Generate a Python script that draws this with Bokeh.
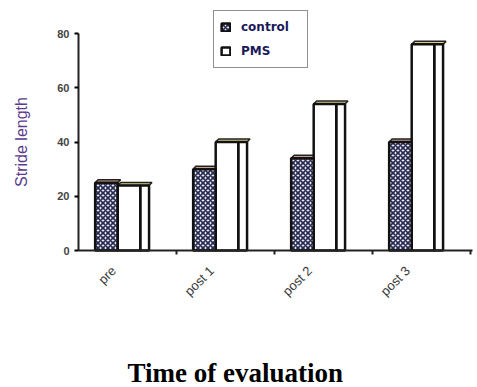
import numpy as np
from bokeh.plotting import figure
from bokeh.models import FixedTicker, Legend, LegendItem, Label, LinearAxis, Range1d
from bokeh.embed import file_html
from bokeh.resources import INLINE

categories = ["pre", "post 1", "post 2", "post 3"]
control = [25, 30, 34, 40]
pms = [24, 40, 54, 76]
y_ticks = [0, 20, 40, 60, 80]

idx = np.arange(len(categories))
c_left, c_right = idx + 0.17, idx + 0.40
p_left, p_front, p_right = idx + 0.40, idx + 0.63, idx + 0.72
dx, dy = 0.03, 1.1

W, H = 477, 387
ox, oy = 78, 250          # pixel position of the data origin
sx, sy = 98.0, 217 / 80   # pixels per unit

p = figure(width=W, height=H,
           x_range=Range1d(-ox / sx, (W - ox) / sx),
           y_range=Range1d(-(H - oy) / sy, oy / sy),
           x_axis_location=None, y_axis_location=None,
           output_backend="svg", toolbar_location=None, min_border=0)
p.outline_line_color = None
p.xgrid.grid_line_color = None
p.ygrid.grid_line_color = None
p.background_fill_color = "white"

# 3D top faces
def tops(l, r, v):
    xs = [[a, b, b + dx, a + dx] for a, b in zip(l, r)]
    ys = [[t, t, t + dy, t + dy] for t in v]
    return xs, ys

xs, ys = tops(p_left, p_right, pms)
p.patches(xs, ys, fill_color="#d9cf86", line_color="#222222", line_width=1.5)
xs, ys = tops(c_left, c_right, control)
p.patches(xs, ys, fill_color="#c99c8c", line_color="#222222", line_width=1.5)

# PMS side face + front
p.quad(left=p_front, right=p_right, bottom=0, top=pms, fill_color="white",
       line_color="#111111", line_width=2.5)
r_pms = p.quad(left=p_left, right=p_front, bottom=0, top=pms, fill_color="white",
               line_color="#111111", line_width=2.5)
# control
r_ctrl = p.quad(left=c_left, right=c_right, bottom=0, top=control,
                fill_color="#e8ecf2", hatch_pattern="diagonal_cross",
                hatch_scale=5, hatch_weight=1.6, hatch_color="#26284f",
                line_color="#111111", line_width=2.5)

# axes
yaxis = LinearAxis(fixed_location=0, bounds=(0, 80),
                   ticker=FixedTicker(ticks=y_ticks))
yaxis.axis_line_color = "#222222"
yaxis.axis_line_width = 2
yaxis.major_tick_out = 4
yaxis.major_tick_in = 0
yaxis.major_tick_line_width = 2
yaxis.minor_tick_line_color = None
yaxis.major_label_text_font = "Liberation Sans"
yaxis.major_label_text_font_size = "11px"
yaxis.major_label_text_font_style = "bold"
yaxis.major_label_text_color = "#444444"
yaxis.axis_label = "Stride length"
yaxis.axis_label_text_font = "Liberation Sans"
yaxis.axis_label_text_font_size = "16px"
yaxis.axis_label_text_font_style = "normal"
yaxis.axis_label_text_color = "#5b3a8c"
yaxis.axis_label_standoff = 24
p.add_layout(yaxis, "left")

xt = idx + 0.36
xaxis = LinearAxis(fixed_location=0, bounds=(0, 4.02),
                   ticker=FixedTicker(ticks=list(xt), minor_ticks=[1, 2, 3, 4]))
xaxis.major_label_overrides = {float(t): c for t, c in zip(xt, categories)}
xaxis.major_label_orientation = np.pi / 4
xaxis.major_tick_out = 0
xaxis.major_tick_in = 0
xaxis.minor_tick_out = 4
xaxis.minor_tick_in = 0
xaxis.minor_tick_line_color = "#222222"
xaxis.minor_tick_line_width = 2
xaxis.axis_line_color = "#222222"
xaxis.axis_line_width = 2
xaxis.major_label_standoff = 14
xaxis.major_label_text_font = "Liberation Sans"
xaxis.major_label_text_font_size = "13px"
xaxis.major_label_text_color = "#3a3a3a"
p.add_layout(xaxis, "below")

legend = Legend(items=[LegendItem(label="control", renderers=[r_ctrl]),
                       LegendItem(label="PMS", renderers=[r_pms])],
                location=(213, H - 68), orientation="vertical")
legend.border_line_color = "#222222"
legend.border_line_width = 1.5
legend.background_fill_color = "white"
legend.label_text_font = "DejaVu Sans"
legend.label_text_font_size = "12px"
legend.label_text_font_style = "bold"
legend.label_text_color = "#1a1a5a"
legend.glyph_width = 11
legend.glyph_height = 10
legend.label_height = 20
legend.label_width = 60
legend.label_standoff = 10
legend.spacing = 4
legend.padding = 6
legend.margin = 0
p.add_layout(legend)

title = Label(x=1.6, y=-45.0, text="Time of evaluation", text_align="center",
              text_baseline="middle", text_font="Liberation Serif",
              text_font_style="bold", text_font_size="27px", text_color="black")
p.add_layout(title)

open("out.html", "w").write(file_html(p, INLINE))
